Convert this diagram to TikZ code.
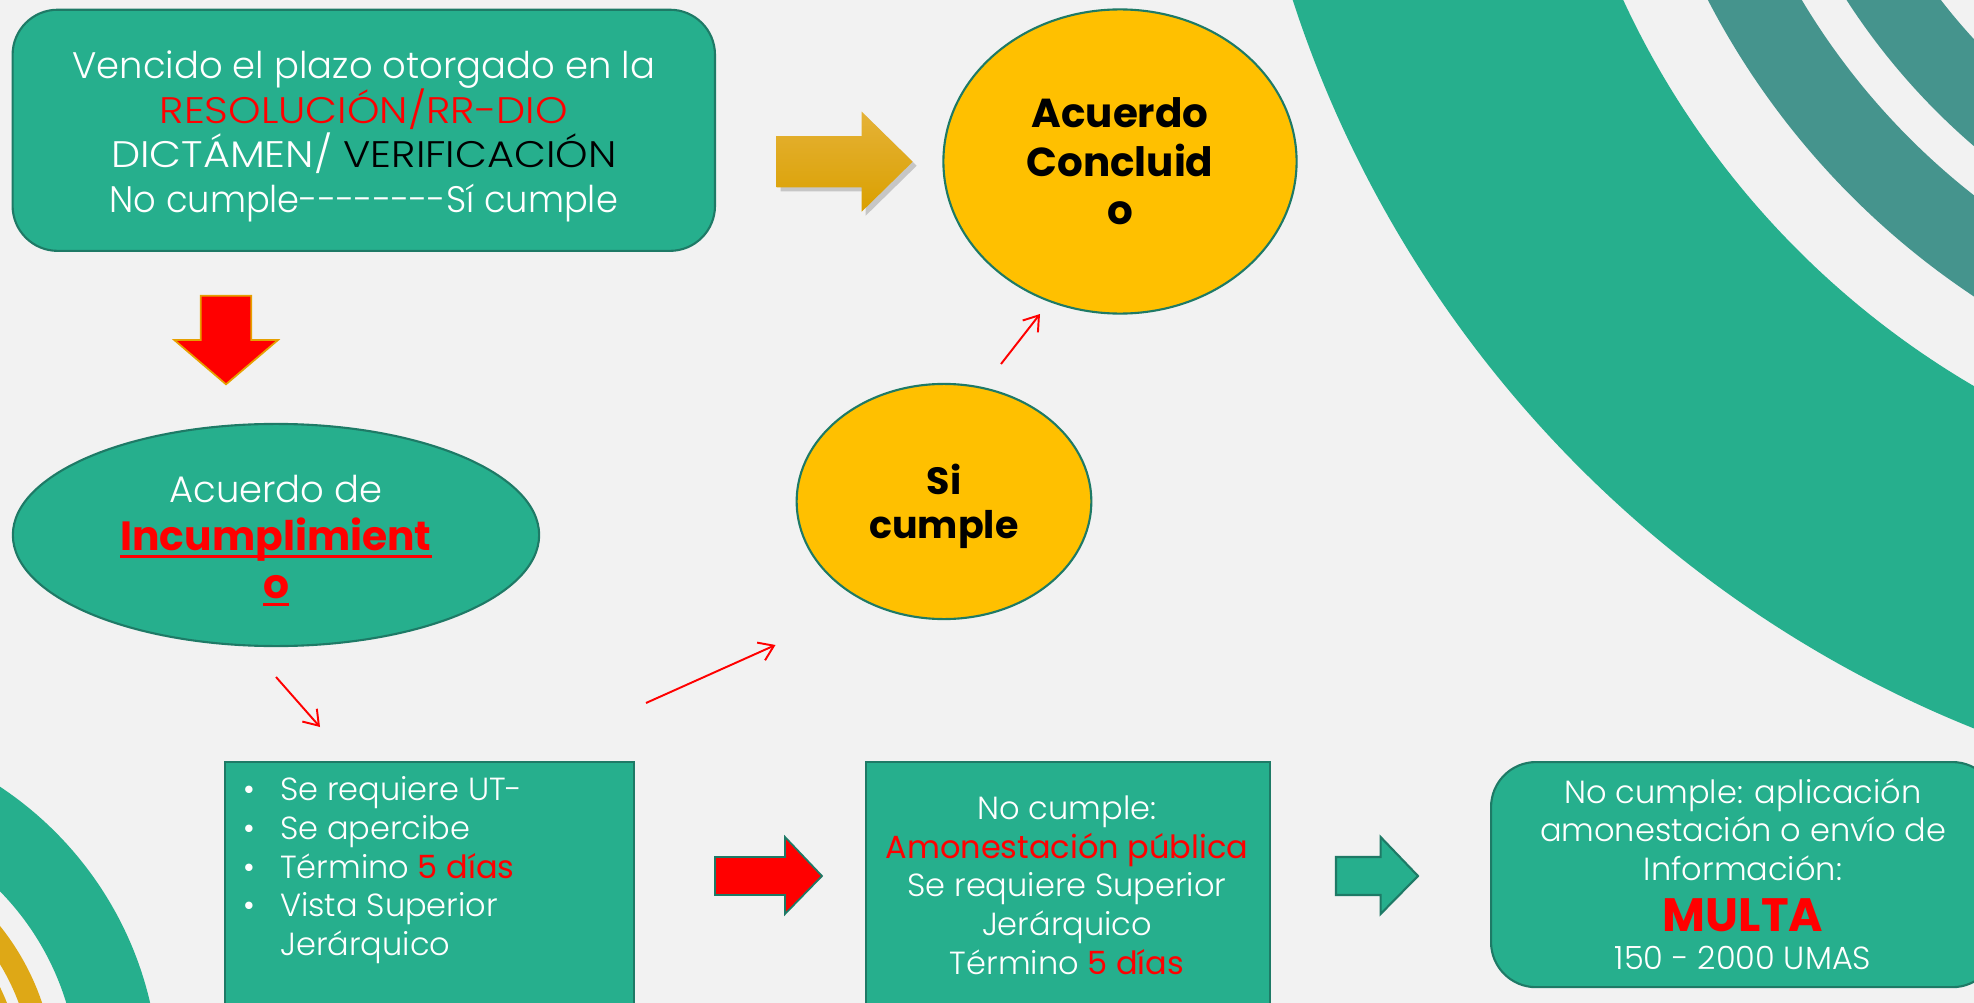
\documentclass[tikz,border=0pt]{standalone}
\usepackage{graphicx}
\usepackage{fontspec}
\setmainfont{Poppins}[UprightFont=* Light, BoldFont=* Bold]
\newfontfamily\popreg{Poppins}
\usetikzlibrary{shapes.geometric,arrows.meta}
\definecolor{bgc}{RGB}{242,242,242}
\definecolor{tealc}{RGB}{38,175,141}
\definecolor{tealdark}{RGB}{30,122,102}
\definecolor{dteal}{RGB}{69,148,141}
\definecolor{goldc}{RGB}{222,168,22}
\definecolor{yel}{RGB}{255,192,0}
\definecolor{redc}{RGB}{255,0,0}
\definecolor{goldtop}{RGB}{229,178,55}
\definecolor{goldbot}{RGB}{218,160,0}
\definecolor{orangeline}{RGB}{230,160,0}
\newsavebox\ulbox
\newcommand\myul[1]{\sbox\ulbox{#1}\rlap{\rule[-2.2pt]{\wd\ulbox}{0.8pt}}\usebox\ulbox}
\newcommand\rd[1]{\textcolor{redc}{\popreg #1}}
\begin{document}
\begin{tikzpicture}[x=0.01cm,y=-0.01cm,
  tbox/.style={fill=tealc, draw=tealdark, line width=0.6pt},
  wtext/.style={text=white, align=center, inner sep=0pt},
  yelell/.style={ellipse, fill=yel, draw=tealdark, line width=0.6pt, inner sep=0pt},
  yeltext/.style={align=center, inner sep=0pt, text=black, font=\bfseries\fontsize{11.5pt}{13.8pt}\selectfont},
  tealell/.style={ellipse, fill=tealc, draw=tealdark, line width=0.6pt, inner sep=0pt},
  thinarrow/.style={draw=redc, line width=0.55pt, -{Straight Barb[length=4pt,width=5.5pt]}},
  blockred/.style={fill=redc, line width=0.5pt},
  linetext/.style={anchor=base west, inner sep=0pt, text=white, font=\fontsize{9.1pt}{11pt}\selectfont},
  ctrline/.style={anchor=base, inner sep=0pt, text=white, font=\fontsize{9.1pt}{11pt}\selectfont}
]
\useasboundingbox (0,0) rectangle (1974,1003);
\fill[bgc] (0,0) rectangle (1974,1003);
% decorative rings
\begin{scope}
\clip (0,0) rectangle (1974,1003);
\fill[tealc, even odd rule] (2412,-364) circle[radius=11.76cm] (2412,-364) circle[radius=8.68cm];
\fill[dteal, even odd rule] (2412,-364) circle[radius=7.92cm] (2412,-364) circle[radius=7.10cm];
\fill[dteal, even odd rule] (2412,-364) circle[radius=6.72cm] (2412,-364) circle[radius=5.95cm];
\fill[tealc, even odd rule] (-196,1083) circle[radius=3.55cm] (-196,1083) circle[radius=2.74cm];
\fill[goldc, even odd rule] (-196,1083) circle[radius=2.51cm] (-196,1083) circle[radius=2.29cm];
\fill[goldc, even odd rule] (-196,1083) circle[radius=2.18cm] (-196,1083) circle[radius=1.98cm];
\end{scope}

% top box
\node[tbox, rounded corners=0.45cm, minimum width=7.02cm, minimum height=2.41cm] (top) at (363.8,130.3) {};
\node[wtext, font=\fontsize{10.5pt}{12.75pt}\selectfont] (toptext) at (363.8,136.3)
  {Vencido el plazo otorgado en la\\
   \scalebox{1.12}[1]{\textcolor{redc}{RESOLUCIÓN/RR-DIO}}\\
   \scalebox{1.12}[1]{DICTÁMEN/ \textcolor{black}{VERIFICACIÓN}}\\
   \scalebox{0.955}[1]{No cumple-{}-{}-{}-{}-{}-{}-{}-Sí cumple}};

% gold arrow with shadow
\fill[black, opacity=0.18] (780.7,140) -- (865.7,140) -- (865.7,115.7) -- (916.7,165.7) -- (865.7,215.7) -- (865.7,191.3) -- (780.7,191.3) -- cycle;
\shade[top color=goldtop, bottom color=goldbot] (776.7,136) -- (861.7,136) -- (861.7,111.7) -- (912.7,161.7) -- (861.7,211.7) -- (861.7,187.3) -- (776.7,187.3) -- cycle;

% ellipses
\node[yelell, minimum width=3.53cm, minimum height=3.04cm] (conc) at (1120,161.5) {};
\node[yeltext] (conctext) at (1120,161.5) {Acuerdo\\Concluid\\o};
\node[yelell, minimum width=2.945cm, minimum height=2.35cm] (si) at (944,501.5) {};
\node[yeltext, font=\bfseries\fontsize{10.8pt}{12.5pt}\selectfont] (sitext) at (944,506.5) {Si\\cumple};
\node[tealell, minimum width=5.26cm, minimum height=2.22cm] (incump) at (276,535) {};
\node[wtext, font=\fontsize{10.5pt}{13.6pt}\selectfont] (incumptext) at (276,540.7)
  {Acuerdo de\\
   {\fontsize{11.6pt}{13.6pt}\selectfont\bfseries\color{redc}\myul{Incumplimient}}\\
   {\fontsize{11.6pt}{13.6pt}\selectfont\bfseries\color{redc}\myul{o}}};

% red down block arrow
\filldraw[blockred, draw=orangeline] (200.7,295.7) -- (251.3,295.7) -- (251.3,340) -- (278,340) -- (226,384.3) -- (174.3,340) -- (200.7,340) -- cycle;

% thin red arrows
\coordinate (a1s) at (276,677); \coordinate (a1e) at (320,727);
\coordinate (a2s) at (646,703); \coordinate (a2e) at (775.5,645);
\coordinate (a3s) at (1001,364); \coordinate (a3e) at (1040,314);
\draw[thinarrow] (a1s) -- (a1e);
\draw[thinarrow] (a2s) -- (a2e);
\draw[thinarrow] (a3s) -- (a3e);

% bullet box
\node[tbox, anchor=north west, minimum width=4.09cm, minimum height=2.6cm] (bul) at (224,761) {};
\node[ctrline] (b1) at (249,800) {•};
\node[ctrline] (b2) at (249,839) {•};
\node[ctrline] (b3) at (249,878) {•};
\node[ctrline] (b4) at (249,916) {•};
\node[linetext] (l1) at (279.5,800) {Se requiere UT-};
\node[linetext] (l2) at (279.5,839) {Se apercibe};
\node[linetext] (l3) at (279.5,878) {Término \rd{5 días}};
\node[linetext] (l4) at (279.5,916) {Vista Superior};
\node[linetext] (l5) at (279.5,955) {Jerárquico};

% red right block arrow
\filldraw[blockred, draw=tealdark] (715,857) -- (785,857) -- (785,837) -- (822,876) -- (785,914) -- (785,895) -- (715,895) -- cycle;

% middle box
\node[tbox, anchor=north west, minimum width=4.04cm, minimum height=2.6cm] (mid) at (865,761) {};
\node[wtext, font=\fontsize{9.1pt}{11pt}\selectfont] (midtext) at (1067,885)
  {No cumple:\\
   \rd{Amonestación pública}\\
   Se requiere Superior\\
   Jerárquico\\
   Término \rd{5 días}};

% green block arrow
\filldraw[fill=tealc, draw=tealdark, line width=0.6pt] (1336,857) -- (1380.6,857) -- (1380.6,837) -- (1418,876) -- (1380.6,914) -- (1380.6,895) -- (1336,895) -- cycle;

% right box
\node[tbox, rounded corners=0.45cm, anchor=north west, minimum width=5.06cm, minimum height=2.25cm] (right) at (1490,761) {};
\node[ctrline] (r1) at (1743,803) {No cumple: aplicación};
\node[ctrline] (r2) at (1743,841) {amonestación o envío de};
\node[ctrline] (r3) at (1743,880) {Información:};
\node[ctrline, text=redc, font=\bfseries\fontsize{13.3pt}{14pt}\selectfont] (r4) at (1743,931.5) {MULTA};
\node[ctrline] (r5) at (1743,969) {150 - 2000 UMAS};
\end{tikzpicture}
\end{document}
